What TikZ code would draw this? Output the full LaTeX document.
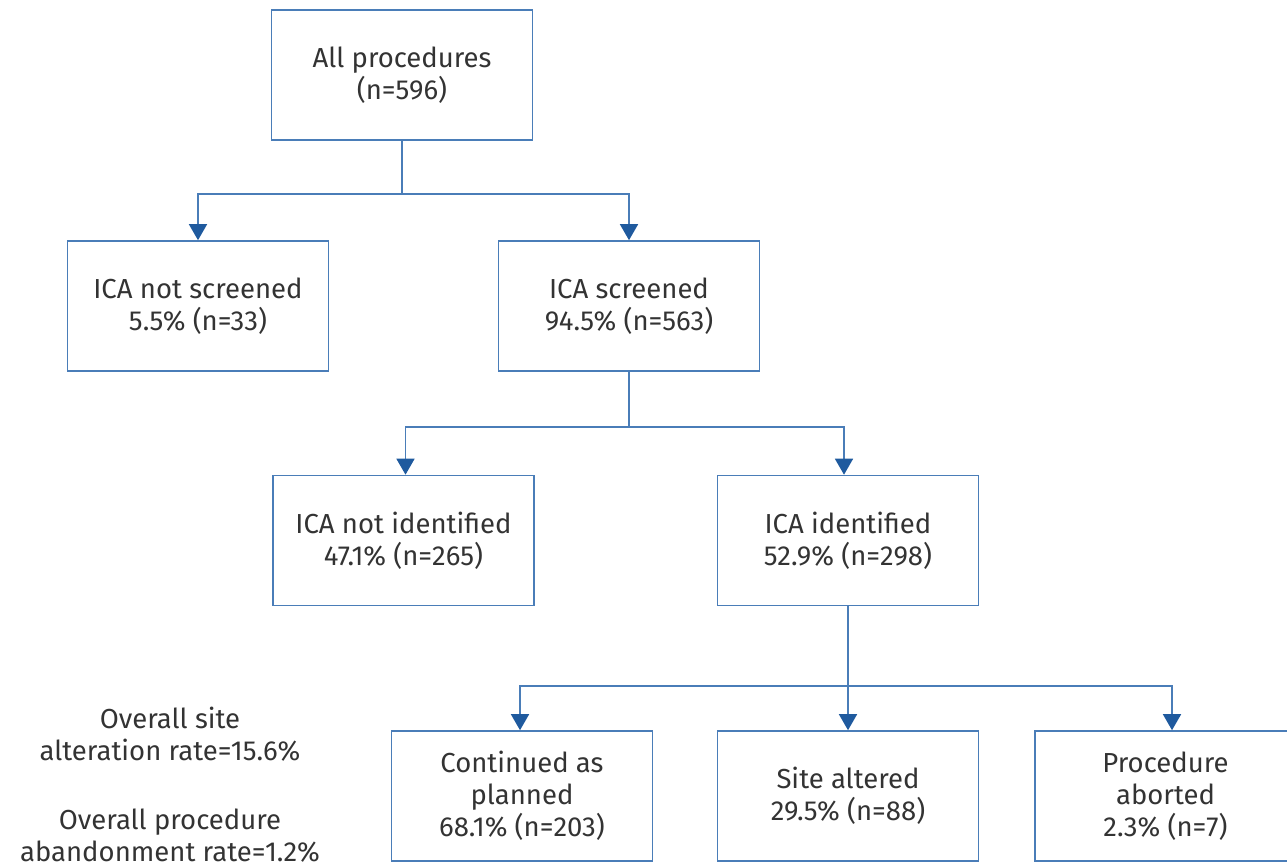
\documentclass[tikz,border=0pt]{standalone}
\usepackage{fontspec}
\setmainfont{Fira Sans}
\usetikzlibrary{arrows.meta}
\definecolor{boxline}{HTML}{4A7DB8}
\definecolor{arrowc}{HTML}{1F5A9E}
\definecolor{txt}{HTML}{333333}
\tikzset{
  box/.style={draw=boxline, line width=1.6pt, minimum width=261pt, minimum height=130pt,
    align=center, text=txt, font=\fontsize{27.5}{32}\selectfont, inner sep=0pt},
  conn/.style={draw=boxline, line width=1.6pt},
  arr/.style={conn, -{Triangle[length=16pt,width=18pt,color=arrowc]}},
  note/.style={align=center, text=txt, font=\fontsize{27.5}{32}\selectfont}
}
\begin{document}
\begin{tikzpicture}[x=1pt,y=-1pt]
\clip (0,0) rectangle (1287,866);
\useasboundingbox (0,0) rectangle (1287,866);
\node[box] (A) at (402,75) {All procedures\\(n=596)};
\node[box] (B) at (198,306) {ICA not screened\\5.5\% (n=33)};
\node[box] (C) at (629,306) {ICA screened\\94.5\% (n=563)};
\node[box] (D) at (403.5,540.5) {ICA not identified\\47.1\% (n=265)};
\node[box] (E) at (848,540.5) {ICA identified\\52.9\% (n=298)};
\node[box] (F) at (522,796) {Continued as\\planned\\68.1\% (n=203)};
\node[box] (G) at (848,796) {Site altered\\29.5\% (n=88)};
\node[box] (H) at (1165.5,796) {Procedure\\aborted\\2.3\% (n=7)};
\node[note] (N1) at (170,734) {Overall site\\alteration rate=15.6\%};
\node[note] (N2) at (170,836) {Overall procedure\\abandonment rate=1.2\%};
% connectors
\coordinate (s1) at (402,194);
\coordinate (s2) at (629,427);
\coordinate (s3) at (848,686);
\draw[conn] (A.south) -- (s1);
\draw[arr] (s1) -| (B.north);
\draw[arr] (s1) -| (C.north);
\draw[conn] (C.south) -- (s2);
\draw[arr] (s2) -| ([xshift=2pt]D.north);
\draw[arr] (s2) -| ([xshift=-4pt]E.north);
\draw[conn] (E.south) -- (s3);
\draw[arr] (s3) -| ([xshift=-2pt]F.north);
\draw[arr] (s3) -- (G.north);
\draw[arr] (s3) -| ([xshift=6.5pt]H.north);
\end{tikzpicture}
\end{document}
